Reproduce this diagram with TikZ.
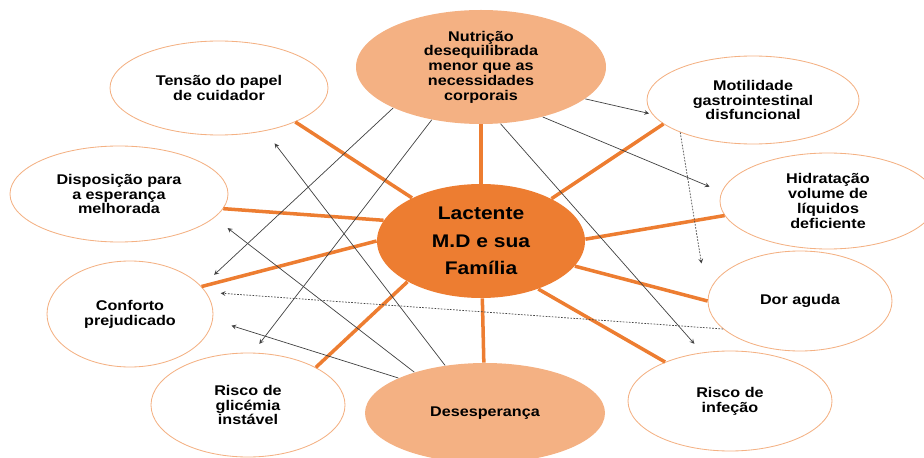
\documentclass[tikz,border=0pt]{standalone}
\usepackage{fontspec}
\setmainfont{Liberation Sans}[FakeStretch=1.15]
\usepackage{xcolor}
\usepackage{tikz}
\usetikzlibrary{shapes,arrows}
\definecolor{darkorange}{HTML}{ED7D31}
\definecolor{lightorange}{HTML}{F4B183}
\tikzset{
  diag/.style={ellipse, draw=lightorange, line width=0.6pt, fill=white, inner sep=0pt, align=center, font=\fontsize{10}{10.5}\selectfont\bfseries},
  diagfill/.style={diag, draw=none, fill=lightorange},
  spoke/.style={draw=darkorange, line width=2.5pt},
  arr/.style={-stealth, draw=black!75, line width=0.5pt},
  dotarr/.style={arr, dash pattern=on 1.2pt off 1pt}
}

\begin{document}
\begin{tikzpicture}
      \useasboundingbox (0,0) rectangle (23.1,11.425);

      % Central ellipse
      \node[diag, draw=none, fill=darkorange, minimum width=5.2cm, minimum height=2.85cm, font=\fontsize{13}{19.5}\selectfont\bfseries] (lac) at (12.025,5.4) {Lactente\\M.D e sua\\Família};

      % Diagnoses around it
      \node[diagfill, minimum width=6.25cm, minimum height=2.85cm] (nut) at (12.025,9.75) {Nutrição\\desequilibrada\\menor que as\\necessidades\\corporais};
      \node[diagfill, minimum width=6cm, minimum height=2.5cm] (des) at (12.125,1.1) {Desesperança};
      \node[diag, minimum width=5.45cm, minimum height=2.35cm] (ten) at (5.475,9.225) {Tensão do papel\\de cuidador};
      \node[diag, minimum width=5.45cm, minimum height=2.4cm] (dis) at (2.975,6.575) {Disposição para\\a esperança\\melhorada};
      \node[diag, minimum width=4.15cm, minimum height=2.65cm] (con) at (3.25,3.575) {Conforto\\prejudicado};
      \node[diag, minimum width=4.85cm, minimum height=2.6cm] (gli) at (6.2,1.3) {Risco de\\glicémia\\instável};
      \node[diag, minimum width=5.1cm, minimum height=2.5cm] (inf) at (18.25,1.4) {Risco de\\infeção};
      \node[diag, minimum width=4.6cm, minimum height=2.5cm] (dor) at (20,3.9) {Dor aguda};
      \node[diag, minimum width=5.4cm, minimum height=2.4cm] (hid) at (20.7,6.4) {Hidratação\\volume de\\líquidos\\deficiente};
      \node[diag, minimum width=5.3cm, minimum height=2.2cm] (mot) at (18.825,8.925) {Motilidade\\gastrointestinal\\disfuncional};

      % Spokes
      \draw[spoke] (lac) -- (nut);
      \draw[spoke] (lac.148) -- (ten.-24);
      \draw[spoke] (lac.168) -- (dis.-8);
      \draw[spoke] (lac.180) -- (con.21);
      \draw[spoke] (lac.209) -- (gli.29);
      \draw[spoke] (lac) -- (des);
      \draw[spoke] (lac.-40) -- (inf.149);
      \draw[spoke] (lac.-15) -- (dor.180);
      \draw[spoke] (lac.1) -- (hid.188);
      \draw[spoke] (lac.31) -- (mot.195);

      % Relations
      \draw[arr, shorten >=0.08cm] (nut.-17) -- (mot.188);
      \draw[arr, shorten >=0.325cm] (nut.-39) -- (hid.175);
      \draw[arr, shorten >=0.29cm] (nut.-71) -- (inf.120);
      \draw[arr, shorten >=0.43cm] (nut.205) -- (con.21);
      \draw[arr, shorten >=0.275cm] (nut.227) -- (gli.85);
      \draw[arr, shorten >=0.39cm] (des.130) -- (ten.-43);
      \draw[arr, shorten >=0.42cm] (des.150) -- (dis.-14);
      \draw[arr, shorten >=0.485cm] (des.158) -- (con.-4);
      \draw[dotarr, shorten >=0.95cm] (mot.204) -- (dor.180);
      \draw[dotarr, shorten >=0.365cm] (dor.200) -- (con.16);
\end{tikzpicture}
\end{document}
